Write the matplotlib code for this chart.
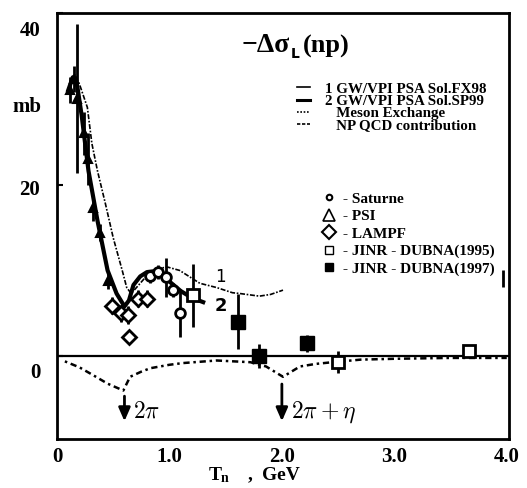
import numpy as np
import matplotlib
matplotlib.use("Agg")
from matplotlib import pyplot as plt
from matplotlib.lines import Line2D
from matplotlib.transforms import ScaledTranslation

plt.rcParams['font.family'] = ['Liberation Serif', 'DejaVu Serif']
plt.rcParams['mathtext.fontset'] = 'cm'

# GW/VPI PSA Sol.FX98 (curve 1)
fx98_t = [0.12, 0.16, 0.20, 0.27, 0.31, 0.36, 0.43, 0.50, 0.58, 0.62, 0.66, 0.72, 0.80,
          0.90, 0.98, 1.09, 1.27, 1.42, 1.56, 1.63, 1.80, 1.90, 2.01]
fx98_s = [32.0, 32.8, 31.7, 29.0, 24.8, 21.6, 17.8, 13.8, 10.0, 8.0, 7.3, 8.2, 9.4,
          10.2, 10.4, 10.0, 8.5, 8.0, 7.4, 7.3, 7.0, 7.2, 7.7]

# GW/VPI PSA Sol.SP99 (curve 2)
sp99_t = [0.10, 0.14, 0.18, 0.22, 0.28, 0.36, 0.45, 0.53, 0.60, 0.64, 0.68, 0.74,
          0.80, 0.86, 0.92, 1.00, 1.10, 1.20, 1.30]
sp99_s = [31.0, 32.5, 31.5, 28.0, 21.6, 15.8, 10.0, 7.3, 5.8, 6.5, 8.3, 9.3,
          9.8, 9.9, 9.4, 8.7, 7.6, 6.8, 6.3]

# NP QCD contribution
qcd_t = [0.07, 0.20, 0.32, 0.45, 0.59, 0.65, 0.75, 0.83, 1.00, 1.12, 1.42, 1.72, 1.86,
         2.01, 2.16, 2.30, 2.45, 2.70, 3.00, 3.50, 4.00]
qcd_s = [-0.6, -1.3, -2.2, -3.2, -4.0, -2.4, -1.8, -1.4, -1.0, -0.8, -0.5, -0.7, -1.2,
         -2.4, -1.2, -0.9, -0.7, -0.4, -0.3, -0.2, -0.2]

# data points
sat_t = [0.83, 0.90, 0.97, 1.03, 1.09]
sat_s = [9.3, 9.8, 9.2, 7.7, 5.0]
sat_e = [0.8, 0.8, 2.3, 0.8, 2.8]

psi_t = [0.12, 0.15, 0.18, 0.24, 0.28, 0.32, 0.38, 0.45]
psi_s = [31.0, 32.3, 30.0, 26.0, 23.0, 17.3, 14.4, 8.8]
psi_e = [1.5, 1.5, 8.7, 2.5, 3.0, 1.5, 1.0, 1.0]

lampf_t = [0.49, 0.57, 0.63, 0.64, 0.72, 0.80]
lampf_s = [5.9, 5.0, 4.8, 2.2, 6.7, 6.7]
lampf_e = [1.0, 1.0, 1.0, 0.8, 1.0, 1.0]

j95_t = [1.21, 2.50, 3.66]
j95_s = [7.1, -0.7, 0.6]
j95_e = [3.7, 1.3, 0.7]

j97_t = [1.61, 1.80, 2.22]
j97_s = [4.0, 0.0, 1.5]
j97_e = [3.2, 1.4, 1.0]

edge_t = [3.97]
edge_s = [9.1]
edge_e = [1.0]

thresholds = [0.60, 2.00]
threshold_labels = [r'$2\pi$', r'$2\pi+\eta$']


W, H = 527, 488
fig = plt.figure(figsize=(W/100, H/100), dpi=100)
ax = fig.add_axes([57/W, 1-439/H, 452/W, 426/H])

def fpos(px, py):
    return px/W, 1-py/H

ax.axhline(0, color='k', lw=1.6)
ax.plot(fx98_t, fx98_s, color='k', lw=1.2, ls=(0, (3, 1, 1, 1)))
ax.plot(sp99_t, sp99_s, color='k', lw=3.0)
ax.plot(qcd_t, qcd_s, color='k', lw=1.8, ls=(0, (1, 1.5, 2.5, 1.5)))

ek = dict(ecolor='k', elinewidth=2, capsize=0, ls='none')
ax.errorbar(sat_t, sat_s, yerr=sat_e, fmt='o', ms=7, mfc='white', mec='k', mew=2, **ek)
ax.errorbar(psi_t, psi_s, yerr=psi_e, fmt='^', ms=6, mfc='k', mec='k', mew=1.5, **ek)
ax.errorbar(lampf_t, lampf_s, yerr=lampf_e, fmt='D', ms=7, mfc='white', mec='k', mew=2, **ek)
ax.errorbar(j95_t, j95_s, yerr=j95_e, fmt='s', ms=9, mfc='white', mec='k', mew=2, **ek)
ax.errorbar(j97_t, j97_s, yerr=j97_e, fmt='s', ms=10, mfc='k', mec='k', **ek)
ax.errorbar(edge_t, edge_s, yerr=edge_e, fmt='none', **ek)

for t, lab in zip(thresholds, threshold_labels):
    top = np.interp(t, qcd_t, qcd_s) - 0.6
    ax.annotate('', xy=(t, -7.9), xytext=(t, top),
                arrowprops=dict(arrowstyle='-|>,head_width=0.35,head_length=0.8', color='k', lw=2))
    ax.text(t + 0.08, -6.5, lab, fontsize=17, va='center', ha='left')

ax.text(1.41, 9.2, '1', fontsize=12, family='DejaVu Sans', va='center')
ax.text(1.40, 5.9, '2', fontsize=13, family='DejaVu Sans', weight='bold', va='center')

ax.set_xlim(0, 4.02)
ax.set_ylim(-9.65, 39.9)
ax.set_xticks([0, 1, 2, 3, 4])
ax.set_xticklabels(['0', '1.0', '2.0', '3.0', '4.0'])
ax.set_yticks([0, 20, 40])
ax.tick_params(axis='x', length=0, pad=6, labelsize=15)
ax.tick_params(axis='y', direction='in', length=4, width=1.5, pad=12, labelsize=15)
for lab in ax.get_xticklabels() + ax.get_yticklabels():
    lab.set_fontweight('bold')
# the scanned labels sit a little below their tick positions
for lab, dy in zip(ax.get_yticklabels(), [-14, -3, -15]):
    lab.set_transform(lab.get_transform() + ScaledTranslation(0, dy/100, fig.dpi_scale_trans))
for sp in ax.spines.values():
    sp.set_linewidth(2)

# title and axis labels
fig.text(*fpos(242, 46), '\u2212\u0394\u03c3', fontsize=20, weight='bold', va='center')
fig.text(*fpos(291, 54), 'L', fontsize=10, weight='bold', family='DejaVu Sans', va='center')
fig.text(*fpos(303, 46), '(np)', fontsize=19, weight='bold', va='center')
fig.text(*fpos(27, 107), 'mb', fontsize=15, weight='bold', ha='center', va='center')
fig.text(*fpos(209, 475), 'T', fontsize=14, weight='bold', va='center')
fig.text(*fpos(221, 478), 'n', fontsize=10, weight='bold', va='center')
fig.text(*fpos(248, 475), ',', fontsize=14, weight='bold', va='center')
fig.text(*fpos(262, 475), 'GeV', fontsize=14, weight='bold', va='center')

# legends
h1 = [Line2D([], [], color='k', lw=1.2),
      Line2D([], [], color='k', lw=2.2),
      Line2D([], [], color='k', lw=1.2, ls=(0, (1, 1))),
      Line2D([], [], color='k', lw=1.2, ls=(0, (2, 1)))]
l1 = ['1 GW/VPI PSA Sol.FX98', '2 GW/VPI PSA Sol.SP99',
      '   Meson Exchange', '   NP QCD contribution']
leg1 = ax.legend(h1, l1, loc='upper left', bbox_to_anchor=(0.53, 0.838), frameon=False,
                 handlelength=0.9, handletextpad=1.0, labelspacing=-0.08, borderpad=0,
                 borderaxespad=0, prop=dict(family='Liberation Serif', weight='bold', size=10.8))
ax.add_artist(leg1)

h2 = [Line2D([], [], ls='none', marker='o', ms=4, mfc='white', mec='k', mew=1.5),
      Line2D([], [], ls='none', marker='^', ms=8, mfc='white', mec='k', mew=1.2),
      Line2D([], [], ls='none', marker='D', ms=7, mfc='white', mec='k', mew=1.5),
      Line2D([], [], ls='none', marker='s', ms=6, mfc='white', mec='k', mew=1),
      Line2D([], [], ls='none', marker='s', ms=6, mfc='k', mec='k')]
l2 = ['- Saturne', '- PSI', '- LAMPF', '- JINR - DUBNA(1995)', '- JINR - DUBNA(1997)']
ax.legend(h2, l2, loc='upper left', bbox_to_anchor=(0.585, 0.58), frameon=False,
          handlelength=1.0, handletextpad=0.4, labelspacing=0.25, borderpad=0,
          borderaxespad=0, prop=dict(family='Liberation Serif', weight='bold', size=11))

fig.savefig('out.png', dpi=100)
